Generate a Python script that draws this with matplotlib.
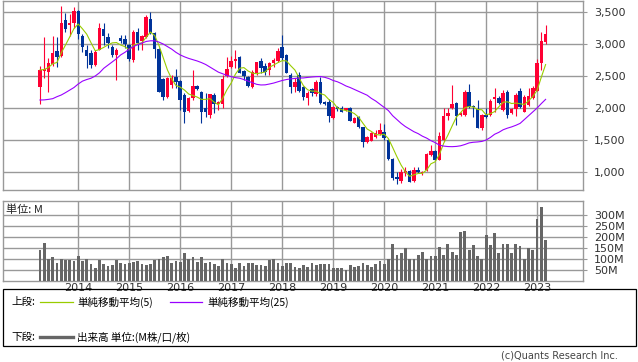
import matplotlib
matplotlib.use("Agg")
import matplotlib.pyplot as plt
from matplotlib.patches import Rectangle
from matplotlib.lines import Line2D
import numpy as np
import pandas as pd

plt.rcParams['font.family'] = ['DejaVu Sans', 'Noto Sans CJK JP']
JP = ['Noto Sans CJK JP', 'DejaVu Sans']

# monthly candles, Apr 2013 - Mar 2023
months = pd.period_range("2013-04", periods=120, freq="M")

opens = [2328, 2577, 2568, 2688, 2896, 2813, 3375, 3297, 3323, 3516,
         3125, 2906, 2854, 2672, 2906, 3229, 3105, 2958, 2828, 3099,
         3073, 2984, 2750, 3193, 3052, 3104, 3390, 3167, 2922, 2453,
         2177, 2360, 2490, 2422, 2203, 1958, 2151, 2344, 2245, 1995,
         1891, 2203, 2057, 2063, 2500, 2646, 2740, 2792, 2578, 2490,
         2323, 2542, 2734, 2662, 2594, 2698, 2734, 2958, 2828, 2516,
         2333, 2510, 2323, 2151, 2292, 2219, 2412, 2099, 2099, 1839,
         2011, 1995, 1969, 1995, 1771, 1854, 1698, 1474, 1490, 1542,
         1594, 1620, 1500, 1203, 927, 865, 979, 1016, 865, 1031,
         979, 1031, 1266, 1328, 1188, 1500, 1875, 1995, 2073, 1891,
         1891, 2255, 2031, 1979, 1682, 1891, 1891, 2141, 2162, 1969,
         2255, 1917, 1979, 2271, 1943, 2047, 2151, 2271, 2698, 3026]
highs = [2656, 3115, 2776, 3125, 3115, 3594, 3490, 3469, 3573, 3531,
         3150, 2990, 2906, 2900, 3323, 3323, 3167, 2990, 2935, 3140,
         3140, 3000, 3219, 3245, 3140, 3453, 3494, 3180, 2935, 2470,
         2490, 2515, 2603, 2440, 2230, 2177, 2594, 2360, 2260, 2229,
         2220, 2229, 2115, 2516, 2802, 2815, 2906, 2815, 2594, 2500,
         2594, 2724, 2776, 2698, 2724, 2776, 2932, 3141, 2840, 2542,
         2463, 2568, 2340, 2260, 2320, 2440, 2480, 2110, 2140, 2030,
         2030, 2030, 2000, 2010, 1860, 1870, 1710, 1560, 1630, 1650,
         1771, 1750, 1510, 1220, 1000, 1042, 1083, 1030, 1083, 1083,
         1020, 1300, 1422, 1350, 1630, 2000, 2000, 2360, 2090, 1940,
         2281, 2375, 2040, 2125, 1900, 1995, 2140, 2307, 2180, 2281,
         2281, 2000, 2230, 2307, 2200, 2310, 2340, 2760, 3193, 3297]
lows = [2070, 2465, 2255, 2660, 2646, 2800, 3193, 3125, 3245, 3080,
        2880, 2620, 2620, 2650, 2900, 2985, 2933, 2800, 2438, 3010,
        2930, 2740, 2724, 2906, 2906, 3099, 3150, 2780, 2250, 2125,
        2150, 2307, 2307, 1969, 1771, 1943, 2125, 2281, 1771, 1865,
        1839, 1917, 1969, 1995, 2490, 2620, 2620, 2542, 2438, 2333,
        2307, 2515, 2542, 2515, 2515, 2646, 2724, 2750, 2542, 2229,
        2255, 2255, 2125, 2047, 2180, 2180, 2060, 2040, 1786, 1830,
        1960, 1930, 1950, 1790, 1760, 1680, 1396, 1460, 1480, 1530,
        1580, 1500, 1180, 875, 808, 823, 940, 840, 850, 980,
        960, 1020, 1250, 1180, 1180, 1490, 1813, 1990, 1734, 1880,
        1880, 2000, 1865, 1680, 1660, 1840, 1880, 1944, 2060, 1960,
        1840, 1900, 1870, 2000, 1930, 2030, 2140, 2260, 2600, 3000]
closes = [2594, 2609, 2698, 2865, 2792, 3333, 3229, 3333, 3516, 3151,
          2958, 2813, 2672, 2880, 3245, 3125, 3010, 2828, 2906, 3052,
          2995, 2760, 3193, 3021, 3125, 3427, 3167, 2922, 2255, 2167,
          2463, 2463, 2412, 2125, 1943, 2151, 2344, 2292, 1943, 1943,
          2214, 2063, 2089, 2453, 2610, 2734, 2760, 2552, 2500, 2344,
          2568, 2714, 2620, 2568, 2708, 2750, 2896, 2776, 2552, 2333,
          2412, 2271, 2177, 2229, 2229, 2412, 2083, 2063, 1875, 2011,
          1979, 1943, 1995, 1797, 1849, 1698, 1474, 1542, 1604, 1615,
          1656, 1537, 1203, 912, 891, 995, 1016, 849, 1031, 995,
          1005, 1276, 1333, 1188, 1563, 1875, 1917, 2057, 1875, 1917,
          2255, 2011, 2011, 1693, 1891, 1854, 2115, 2167, 2073, 2240,
          1891, 1979, 2203, 2021, 2177, 2188, 2307, 2698, 3047, 3156]

# 25-month moving average as drawn on the chart
ma25 = [2125, 2127, 2135, 2146, 2177, 2203, 2240, 2280, 2320, 2375,
        2420, 2445, 2465, 2500, 2550, 2620, 2670, 2720, 2770, 2830,
        2870, 2920, 2960, 2990, 3015, 3040, 3050, 3050, 3030, 3000,
        2960, 2920, 2870, 2830, 2800, 2775, 2755, 2735, 2710, 2680,
        2640, 2600, 2560, 2535, 2510, 2490, 2475, 2465, 2445, 2420,
        2395, 2370, 2360, 2362, 2375, 2390, 2410, 2430, 2445, 2455,
        2462, 2468, 2470, 2478, 2485, 2490, 2492, 2480, 2460, 2430,
        2410, 2380, 2345, 2320, 2290, 2260, 2230, 2200, 2150, 2110,
        2060, 2010, 1960, 1880, 1820, 1760, 1710, 1670, 1630, 1600,
        1560, 1530, 1490, 1460, 1420, 1405, 1398, 1396, 1400, 1410,
        1430, 1455, 1465, 1470, 1478, 1500, 1540, 1590, 1620, 1660,
        1685, 1705, 1730, 1760, 1820, 1880, 1940, 2000, 2070, 2135]

# volume, millions
volume = [138, 170, 101, 108, 79, 101, 92, 92, 89, 112,
          89, 97, 74, 56, 92, 74, 67, 71, 92, 79,
          74, 82, 86, 89, 74, 71, 77, 92, 101, 108,
          112, 79, 89, 85, 124, 101, 108, 85, 108, 79,
          85, 74, 67, 100, 79, 74, 56, 79, 67, 79,
          82, 70, 70, 67, 92, 101, 79, 67, 79, 79,
          64, 59, 70, 62, 82, 71, 74, 74, 74, 59,
          56, 56, 48, 71, 62, 67, 79, 71, 62, 74,
          89, 74, 97, 168, 115, 127, 150, 101, 101, 115,
          133, 97, 112, 112, 156, 115, 168, 132, 115, 223,
          229, 142, 165, 111, 100, 207, 165, 218, 127, 168,
          168, 127, 168, 160, 101, 147, 142, 283, 336, 188]

price_ticks = [1000, 1500, 2000, 2500, 3000, 3500]
vol_ticks = [50, 100, 150, 200, 250, 300]

W, H = 638, 362
GRID = "#999999"
UP = "#ff0033"
DOWN = "#003399"
TXT = "#333333"


def fx(px):
    return px / W


def fy(py):
    return 1 - py / H


fig = plt.figure(figsize=(W / 100, H / 100), dpi=100)
ax = fig.add_axes([fx(3), fy(190), fx(580), (190 - 1) / H])
axv = fig.add_axes([fx(3), fy(280.5), fx(580), (280.5 - 201) / H])

x = np.arange(len(months))
o = np.array(opens)
c = np.array(closes)
colors = [UP if cc >= oo else DOWN for oo, cc in zip(o, c)]
year_pos = [i for i, m in enumerate(months) if m.month == 1]
year_lab = [str(months[i].year) for i in year_pos]

ma5 = pd.Series(closes).rolling(5, min_periods=1).mean()

# price panel
ax.vlines(x, lows, highs, colors=colors, lw=0.8, zorder=3)
body = np.maximum(np.abs(c - o), 8)
ax.bar(x, body, bottom=np.minimum(o, c), width=0.8, color=colors, zorder=4)
ax.plot(x, ma5, color="#99cc00", lw=0.8, zorder=5)
ax.plot(x, ma25, color="#9900ff", lw=0.8, zorder=5)

ax.set_xlim(-8.7, 127.8)
ax.set_ylim(719, 3672)
ax.set_yticks(price_ticks)
ax.set_yticklabels(["{:,}".format(t) for t in price_ticks])
ax.set_xticks(year_pos)
ax.set_xticklabels([])
ax.yaxis.tick_right()

# volume panel
axv.bar(x, volume, width=0.65, color="#666666", zorder=3)
axv.set_xlim(-8.7, 127.8)
axv.set_ylim(0, 365)
axv.set_yticks(vol_ticks)
axv.set_yticklabels(["{}M".format(t) for t in vol_ticks])
axv.set_xticks(year_pos)
axv.set_xticklabels(year_lab)
axv.yaxis.tick_right()
axv.text(0.006, 0.955, "単位: M", transform=axv.transAxes, fontsize=8,
         family=JP, ha="left", va="top", color="#222222")

for a in (ax, axv):
    a.grid(True, color=GRID, lw=1.0, zorder=0)
    a.set_axisbelow(True)
    for s in a.spines.values():
        s.set_color(GRID)
        s.set_linewidth(1.0)
    a.tick_params(axis="y", length=3, color=GRID, pad=5, labelsize=8,
                  labelcolor=TXT)
    a.tick_params(axis="x", length=0, pad=1.5, labelsize=8, labelcolor=TXT)

# legend box
fs = 7.6
fig.add_artist(Rectangle((fx(3), fy(346)), fx(633), (346 - 289) / H,
                         transform=fig.transFigure, fill=False,
                         edgecolor="black", lw=0.9))
fig.text(fx(11), fy(302), "上段:", fontsize=fs, family=JP, va="center", ha="left")
fig.add_artist(Line2D([fx(40), fx(73)], [fy(302), fy(302)],
                      transform=fig.transFigure, color="#99cc00", lw=0.9))
fig.text(fx(77), fy(302), "単純移動平均(5)", fontsize=fs, family=JP,
         va="center", ha="left")
fig.add_artist(Line2D([fx(170), fx(202)], [fy(302), fy(302)],
                      transform=fig.transFigure, color="#9900ff", lw=0.9))
fig.text(fx(207), fy(302), "単純移動平均(25)", fontsize=fs, family=JP,
         va="center", ha="left")
fig.text(fx(11), fy(337), "下段:", fontsize=fs, family=JP, va="center", ha="left")
fig.add_artist(Line2D([fx(40), fx(73)], [fy(337), fy(337)],
                      transform=fig.transFigure, color="#666666", lw=2.4))
fig.text(fx(77), fy(337), "出来高 単位:(M株/口/枚)", fontsize=fs, family=JP,
         va="center", ha="left")
fig.text(fx(618), fy(356), "(c)Quants Research Inc.", fontsize=7.0,
         va="center", ha="right", color="#444444")

fig.savefig("out.png", dpi=100)
